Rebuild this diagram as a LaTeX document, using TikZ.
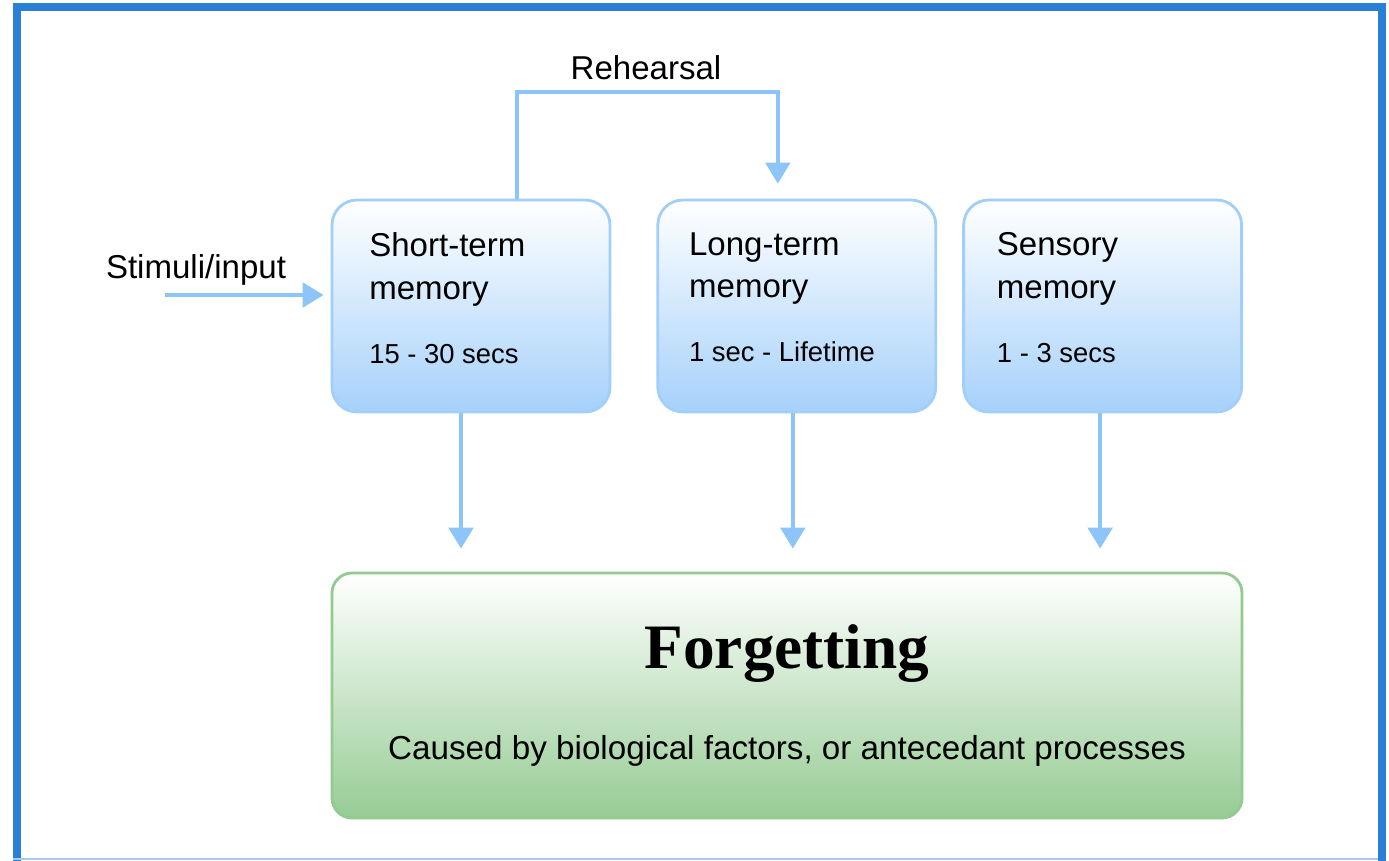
\documentclass[tikz,border=0pt]{standalone}
\usepackage{fontspec}
\setmainfont{Liberation Sans}
\newfontfamily\headserif{Liberation Serif}
\usepackage{tikz}
\usetikzlibrary{arrows.meta,positioning,calc}
\definecolor{framebar}{HTML}{2A7FD6}
\definecolor{framethin}{HTML}{A9C9EE}
\definecolor{flowblue}{HTML}{8EC5F8}
\definecolor{memline}{HTML}{A2CFF9}
\definecolor{memfill}{HTML}{A6D1FB}
\definecolor{forgetline}{HTML}{92CA90}
\definecolor{forgetfill}{HTML}{96CC94}

\begin{document}
\begin{tikzpicture}[
  memory/.style={rectangle, rounded corners=0.25cm, draw=memline, line width=0.8pt, top color=white, bottom color=memfill, minimum width=2.78cm, minimum height=2.12cm},
  memtext/.style={anchor=north west, inner sep=0pt, align=left, font=\fontsize{9.4}{12.2}\selectfont},
  forget/.style={rectangle, rounded corners=0.2cm, draw=forgetline, line width=0.8pt, top color=white, bottom color=forgetfill, minimum width=9.10cm, minimum height=2.45cm, align=center},
  caption/.style={font=\fontsize{9.4}{11}\selectfont, inner sep=0pt},
  flow/.style={-{Triangle[length=6pt,width=7pt]}, line width=1.1pt, flowblue}
]
  \useasboundingbox (0,0) rectangle (13.89,-8.60);

  % outer frame, open at the bottom
  \draw[framebar, line width=2.3pt] (0.17,-8.75) -- (0.17,-0.07) -- (13.82,-0.07) -- (13.82,-8.75);
  \draw[framethin, line width=0.6pt] (0.13,-8.59) -- (13.78,-8.59);

  % memory stores
  \node[memory] (stm) at (4.71,-3.06) {};
  \node[memory, right=0.45cm of stm] (ltm) {};
  \node[memory, right=0.25cm of ltm] (sensory) {};
  \node[memtext] (stmtext) at ([shift={(0.38,-0.33)}]stm.north west) {Short-term\\memory\\[6pt]{\fontsize{7.8}{12.2}\selectfont 15 - 30 secs}};
  \node[memtext] (ltmtext) at ([shift={(0.32,-0.33)}]ltm.north west) {Long-term\\memory\\[6pt]{\fontsize{7.8}{12.2}\selectfont 1 sec - Lifetime}};
  \node[memtext] (sensorytext) at ([shift={(0.34,-0.33)}]sensory.north west) {Sensory\\memory\\[6pt]{\fontsize{7.8}{12.2}\selectfont 1 - 3 secs}};

  \node[forget] (forgetting) at (7.87,-6.955) {{\headserif\bfseries\fontsize{18}{20}\selectfont Forgetting}\\[14pt]
    {\fontsize{9.45}{11}\selectfont Caused by biological factors, or antecedant processes}};

  \node[caption] (stimuli) at (1.96,-2.70) {Stimuli/input};
  \node[caption] (rehearsal) at (6.46,-0.68) {Rehearsal};
  \coordinate (stimstart) at (1.65,-2.95);

  \draw[flow, shorten >=0.07cm] (stimstart) -- (stimstart -| stm.west);
  \draw[flow, shorten >=0.15cm] ([xshift=0.46cm]stm.north) -- ++(0,1.07) -| ([xshift=-0.19cm]ltm.north);

  \draw[flow, shorten >=0.23cm] ([xshift=-0.10cm]stm.south) -- ([xshift=-0.10cm]stm.south |- forgetting.north);
  \draw[flow, shorten >=0.23cm] ([xshift=-0.04cm]ltm.south) -- ([xshift=-0.04cm]ltm.south |- forgetting.north);
  \draw[flow, shorten >=0.23cm] ([xshift=-0.025cm]sensory.south) -- ([xshift=-0.025cm]sensory.south |- forgetting.north);
\end{tikzpicture}
\end{document}
